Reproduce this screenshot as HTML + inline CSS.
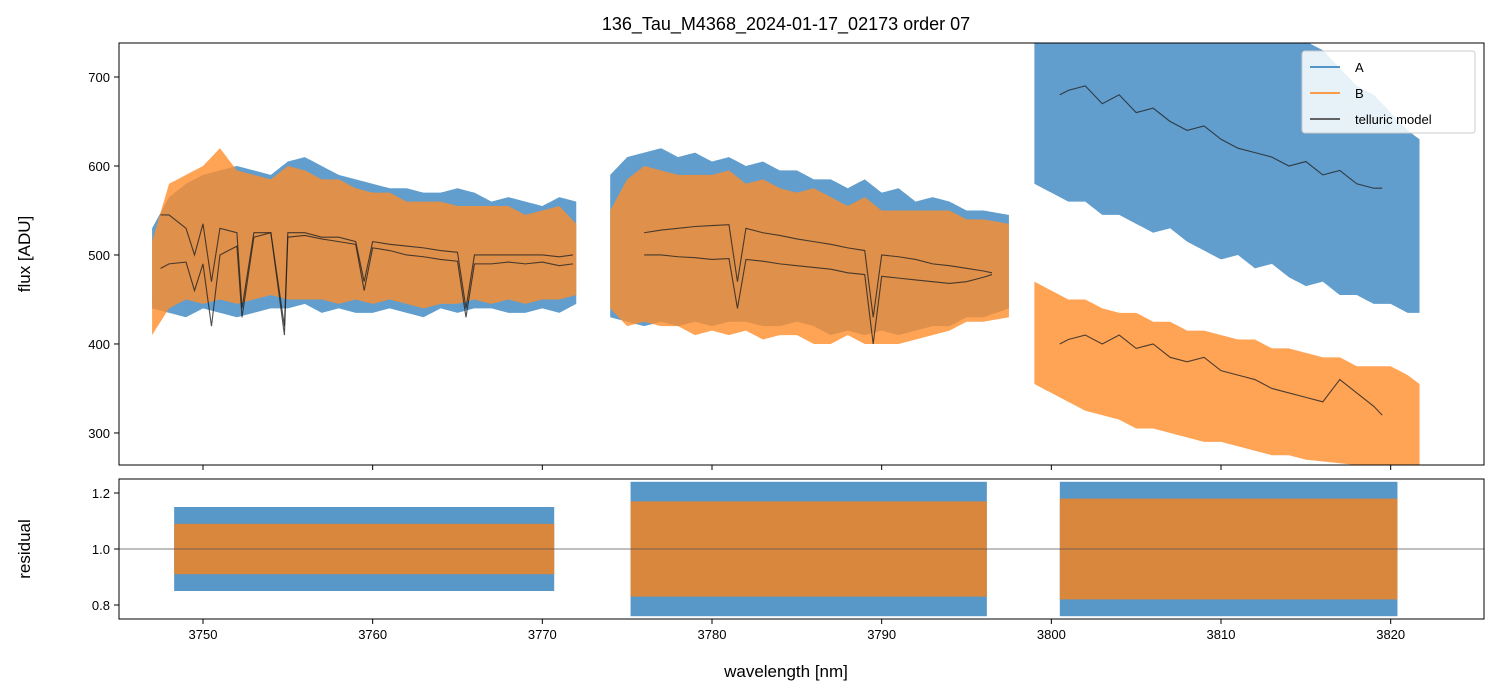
<!DOCTYPE html>
<html><head><meta charset="utf-8">
<style>
body{margin:0;background:#fff;}
svg text{font-family:"Liberation Sans",sans-serif;fill:#000;}
</style></head>
<body>
<svg id="chart" width="1499" height="696" xmlns="http://www.w3.org/2000/svg" style="position:absolute;left:0;top:0">
<rect width="1499" height="696" fill="#fff"/>
<defs>
<clipPath id="ct"><rect x="119" y="43" width="1365" height="422"/></clipPath>
<clipPath id="cb"><rect x="119" y="479" width="1365" height="140"/></clipPath>
</defs>
<text x="786" y="30" font-size="18" text-anchor="middle">136_Tau_M4368_2024-01-17_02173  order 07</text>
<g id="gtop" clip-path="url(#ct)"></g><g id="gbot" clip-path="url(#cb)"></g>
</svg>
<script>
// ---- data ----
const seg1Wl=[3747,3748,3749,3750,3751,3752,3753,3754,3755,3756,3757,3758,3759,3760,3761,3762,3763,3764,3765,3766,3767,3768,3769,3770,3771,3772];
const seg1AHi=[530,565,580,590,595,600,595,590,605,610,600,590,585,580,575,575,570,570,575,570,560,565,560,555,565,560];
const seg1ALo=[440,435,430,440,435,430,435,440,440,445,435,440,435,435,440,435,430,440,435,440,440,435,435,440,435,445];
const seg1BHi=[515,580,590,600,620,595,590,585,600,595,585,585,575,570,570,560,560,560,555,555,555,555,545,550,555,535];
const seg1BLo=[410,440,450,445,450,445,450,455,450,450,450,445,450,445,450,445,440,445,445,450,445,450,445,450,450,455];
const seg2Wl=[3774,3775,3776,3777,3778,3779,3780,3781,3782,3783,3784,3785,3786,3787,3788,3789,3790,3791,3792,3793,3794,3795,3796,3797.5];
const seg2AHi=[590,610,615,620,610,615,605,610,600,605,595,595,585,585,575,585,570,575,560,565,560,550,550,545];
const seg2ALo=[430,425,420,425,420,425,420,425,425,420,420,425,420,410,415,410,415,410,415,420,420,430,430,440];
const seg2BHi=[550,585,600,595,590,590,590,595,580,585,575,570,575,565,555,565,550,550,550,550,550,540,540,535];
const seg2BLo=[440,420,425,420,420,410,415,410,415,405,410,410,400,400,410,400,400,400,405,410,415,425,425,430];
const seg3Wl=[3799,3800,3801,3802,3803,3804,3805,3806,3807,3808,3809,3810,3811,3812,3813,3814,3815,3816,3817,3818,3819,3820,3821,3821.7];
const seg3AHi=[740,740,740,740,740,740,740,740,740,740,740,740,740,740,740,740,740,730,710,690,680,660,640,630];
const seg3ALo=[580,570,560,560,545,545,535,525,530,515,505,495,500,485,490,475,465,470,455,455,445,445,435,435];
const seg3BHi=[470,460,450,450,440,435,435,425,425,415,415,410,405,405,395,395,390,385,385,375,375,375,365,355];
const seg3BLo=[355,345,335,325,320,315,305,305,300,295,290,290,285,280,275,275,270,268,266,264,264,264,264,264];
const tel1Wl=[3747.5,3748,3749,3749.5,3750,3750.5,3751,3752,3752.3,3753,3754,3754.8,3755,3756,3757,3758,3759,3759.5,3760,3761,3762,3763,3764,3765,3765.5,3766,3767,3768,3769,3770,3771,3771.8];
const tel1Up=[545,545,530,500,535,470,530,525,440,525,525,420,525,525,520,520,515,470,515,512,510,508,505,503,440,500,500,500,500,500,498,500];
const tel1Lo=[485,490,492,460,490,420,500,510,430,520,525,410,520,522,518,515,512,460,508,505,500,498,495,493,430,490,490,492,490,492,488,490];
const tel2Wl=[3776,3777,3778,3779,3780,3781,3781.5,3782,3783,3784,3785,3786,3787,3788,3789,3789.5,3790,3791,3792,3793,3794,3795,3796,3796.5];
const tel2Up=[525,528,530,532,533,534,470,530,525,522,518,515,512,508,505,430,500,498,495,490,488,485,482,480];
const tel2Lo=[500,500,498,497,495,496,440,495,493,490,488,486,484,480,478,400,476,474,472,470,468,470,475,478];
const tel3Wl=[3800.5,3801,3802,3803,3804,3805,3806,3807,3808,3809,3810,3811,3812,3813,3814,3815,3816,3817,3818,3819,3819.5];
const tel3A=[680,685,690,670,680,660,665,650,640,645,630,620,615,610,600,605,590,595,580,575,575];
const tel3B=[400,405,410,400,410,395,400,385,380,385,370,365,360,350,345,340,335,360,345,330,320];
const resSegs=[[3748.3,3770.7],[3775.2,3796.2],[3800.5,3820.4]];
const resAHalf=[0.15,0.24,0.24];
const resBHalf=[0.09,0.17,0.18];
const xTicks=[3750,3760,3770,3780,3790,3800,3810,3820];
const yTicksTop=[300,400,500,600,700];
const yTicksBot=[0.8,1.0,1.2];

// ---- axes ----
const L=119,R=1484,TT=43,TB=465,BT=479,BB=619;
const x=w=>L+(w-3745.05)/(3825.5-3745.05)*(R-L);
const yT=v=>TB-(v-264)/(738.2-264)*(TB-TT);
const yB=v=>BB-(v-0.75)/(1.25-0.75)*(BB-BT);
const NS='http://www.w3.org/2000/svg';
function mk(tag,at,parent){const e=document.createElementNS(NS,tag);for(const k in at)e.setAttribute(k,at[k]);parent.appendChild(e);return e;}
const gTop=document.getElementById('gtop'),gBot=document.getElementById('gbot');
const svg=document.getElementById('chart');

function band(wl,hi,lo,color,name){
  let pts=[];
  for(let i=0;i<wl.length-1;i++){
    for(let k=0;k<8;k++){
      const t=k/8,w=wl[i]+(wl[i+1]-wl[i])*t;
      const h=hi[i]+(hi[i+1]-hi[i])*t,l=lo[i]+(lo[i+1]-lo[i])*t;
      pts.push([w,h,l]);
    }
  }
  const n=wl.length-1;pts.push([wl[n],hi[n],lo[n]]);
  const p=mk('polygon',{points:pts.map(q=>x(q[0])+','+yT(q[1])).concat(pts.slice().reverse().map(q=>x(q[0])+','+yT(q[2]))).join(' '),fill:color,'fill-opacity':0.8},gTop);
  
  
}
function line(wl,v,name){
  const p=mk('polyline',{points:wl.map((w,i)=>x(w)+','+yT(v[i])).join(' '),fill:'none',stroke:'#222','stroke-width':1.1,'stroke-opacity':0.8},gTop);
  
  
}
band(seg1Wl,seg1AHi,seg1ALo,'#3a86c0','series-a-seg1');
band(seg1Wl,seg1BHi,seg1BLo,'#ff8c2a','series-b-seg1');
band(seg2Wl,seg2AHi,seg2ALo,'#3a86c0','series-a-seg2');
band(seg2Wl,seg2BHi,seg2BLo,'#ff8c2a','series-b-seg2');
band(seg3Wl,seg3AHi,seg3ALo,'#3a86c0','series-a-seg3');
band(seg3Wl,seg3BHi,seg3BLo,'#ff8c2a','series-b-seg3');
line(tel1Wl,tel1Up,'telluric-seg1-a');line(tel1Wl,tel1Lo,'telluric-seg1-b');
line(tel2Wl,tel2Up,'telluric-seg2-a');line(tel2Wl,tel2Lo,'telluric-seg2-b');
line(tel3Wl,tel3A,'telluric-seg3-a');line(tel3Wl,tel3B,'telluric-seg3-b');

resSegs.forEach((s,i)=>{
  const a=mk('rect',{x:x(s[0]),y:yB(1+resAHalf[i]),width:x(s[1])-x(s[0]),height:yB(1-resAHalf[i])-yB(1+resAHalf[i]),fill:'#3a86c0','fill-opacity':0.85},gBot);
  
  
  const b=mk('rect',{x:x(s[0]),y:yB(1+resBHalf[i]),width:x(s[1])-x(s[0]),height:yB(1-resBHalf[i])-yB(1+resBHalf[i]),fill:'#e8852e','fill-opacity':0.9},gBot);
  
  
});
const ref=mk('line',{x1:L,x2:R,y1:yB(1),y2:yB(1),stroke:'#555','stroke-width':0.8},gBot);



[[TT,TB,'top-axes-frame'],[BT,BB,'bottom-axes-frame']].forEach(f=>{
  const r=mk('rect',{x:L,y:f[0],width:R-L,height:f[1]-f[0],fill:'none',stroke:'#000','stroke-width':1},svg);
  
  
});
xTicks.forEach(t=>{
  mk('line',{x1:x(t),x2:x(t),y1:TB,y2:TB+5,stroke:'#000'},svg);
  mk('line',{x1:x(t),x2:x(t),y1:BB,y2:BB+5,stroke:'#000'},svg);
  const tx=mk('text',{x:x(t),y:BB+20,'font-size':13,'text-anchor':'middle'},svg);tx.textContent=t;
  
  
});
yTicksTop.forEach(t=>{
  mk('line',{x1:L-5,x2:L,y1:yT(t),y2:yT(t),stroke:'#000'},svg);
  const tx=mk('text',{x:L-9,y:yT(t)+5,'font-size':13,'text-anchor':'end'},svg);tx.textContent=t;
  
  
});
yTicksBot.forEach(t=>{
  mk('line',{x1:L-5,x2:L,y1:yB(t),y2:yB(t),stroke:'#000'},svg);
  const tx=mk('text',{x:L-9,y:yB(t)+5,'font-size':13,'text-anchor':'end'},svg);tx.textContent=t.toFixed(1);
  
  
});
</script>
<svg style="position:absolute;left:0;top:0" width="1499" height="696">
<text x="786" y="677" font-size="17" text-anchor="middle" font-family="Liberation Sans">wavelength [nm]</text>
<text transform="translate(30,254) rotate(-90)" font-size="17" text-anchor="middle" font-family="Liberation Sans">flux [ADU]</text>
<text transform="translate(30,549) rotate(-90)" font-size="17" text-anchor="middle" font-family="Liberation Sans">residual</text>
<g font-family="Liberation Sans" font-size="13">
<rect x="1302" y="51" width="173" height="82" rx="3" fill="#fff" fill-opacity="0.85" stroke="#ccc"/>
<line x1="1310" x2="1340" y1="67" y2="67" stroke="#1f77b4" stroke-width="1.5"/><text x="1355" y="72">A</text>
<line x1="1310" x2="1340" y1="93" y2="93" stroke="#ff7f0e" stroke-width="1.5"/><text x="1355" y="98">B</text>
<line x1="1310" x2="1340" y1="119" y2="119" stroke="#333" stroke-width="1.5"/><text x="1355" y="124">telluric model</text>
</g>
</svg>
</body></html>
